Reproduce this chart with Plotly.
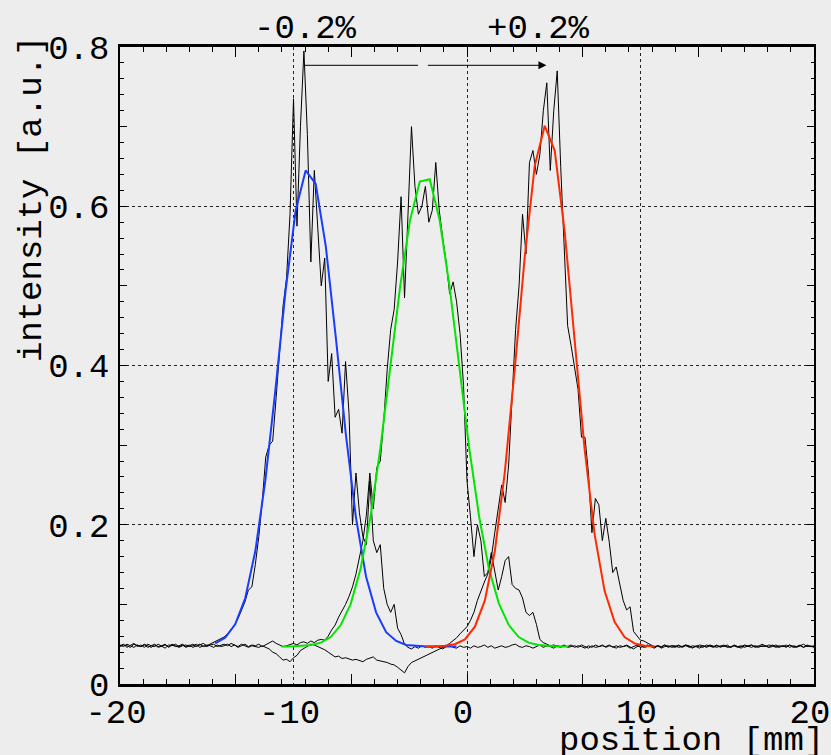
import numpy as np
import plotly.graph_objects as go

# ---------------- data ----------------
# measured profiles sampled every 0.2 mm from -20 to 20 mm
pos = np.round(np.arange(201) * 0.2 - 20, 1)

prof_minus = [  # peak near -9.4 mm (-0.2 %)
    0.048, 0.050, 0.046, 0.049, 0.051, 0.047, 0.049, 0.046, 0.050, 0.048,
    0.047, 0.050, 0.048, 0.045, 0.049, 0.048, 0.050, 0.047, 0.049, 0.046,
    0.048, 0.050, 0.047, 0.049, 0.051, 0.048, 0.050, 0.052, 0.054, 0.056,
    0.059, 0.063, 0.068, 0.074, 0.082, 0.092, 0.103, 0.118, 0.122, 0.150,
    0.185, 0.230, 0.285, 0.300, 0.305, 0.360, 0.420, 0.475, 0.510, 0.590,
    0.735, 0.575, 0.700, 0.795, 0.690, 0.530, 0.645, 0.565, 0.500, 0.535,
    0.380, 0.415, 0.335, 0.345, 0.315, 0.405, 0.340, 0.200, 0.265, 0.215,
    0.185, 0.175, 0.255, 0.180, 0.165, 0.175, 0.120, 0.100, 0.090, 0.100,
    0.070, 0.062, 0.050, 0.046, 0.044, 0.047, 0.045, 0.048, 0.046, 0.047,
    0.045, 0.048, 0.046, 0.044, 0.047, 0.049, 0.046, 0.045, 0.048, 0.046,
    0.047, 0.045, 0.048, 0.046, 0.047, 0.049, 0.046, 0.048, 0.045, 0.047,
    0.048, 0.046, 0.047, 0.049, 0.050, 0.047, 0.046, 0.048, 0.047, 0.045,
    0.047, 0.049, 0.046, 0.048, 0.047, 0.045, 0.048, 0.047, 0.049, 0.046,
    0.047, 0.048, 0.046, 0.049, 0.047, 0.045, 0.048, 0.046, 0.047, 0.049,
    0.046, 0.048, 0.047, 0.045, 0.048, 0.047, 0.049, 0.046, 0.044, 0.047,
    0.048, 0.046, 0.047, 0.049, 0.046, 0.048, 0.045, 0.047, 0.048, 0.046,
    0.047, 0.049, 0.046, 0.048, 0.047, 0.045, 0.048, 0.047, 0.046, 0.049,
    0.047, 0.046, 0.048, 0.047, 0.049, 0.046, 0.047, 0.048, 0.046, 0.047,
    0.049, 0.047, 0.046, 0.048, 0.047, 0.050, 0.048, 0.046, 0.047, 0.049,
    0.047, 0.048, 0.046, 0.049, 0.047, 0.046, 0.048, 0.050, 0.047, 0.048,
    0.046]

prof_zero = [  # peak near -2.4 mm
    0.049, 0.047, 0.050, 0.048, 0.046, 0.049, 0.047, 0.050, 0.048, 0.046,
    0.049, 0.047, 0.048, 0.050, 0.046, 0.049, 0.047, 0.048, 0.050, 0.047,
    0.049, 0.046, 0.048, 0.050, 0.047, 0.049, 0.048, 0.046, 0.049, 0.047,
    0.048, 0.050, 0.047, 0.049, 0.046, 0.048, 0.050, 0.047, 0.049, 0.048,
    0.050, 0.047, 0.049, 0.052, 0.054, 0.051, 0.049, 0.047, 0.048, 0.050,
    0.051, 0.049, 0.052, 0.053, 0.051, 0.054, 0.052, 0.055, 0.056, 0.055,
    0.060, 0.068, 0.074, 0.084, 0.092, 0.100, 0.110, 0.122, 0.138, 0.158,
    0.180, 0.212, 0.265, 0.220, 0.272, 0.280, 0.330, 0.395, 0.445, 0.470,
    0.530, 0.612, 0.485, 0.590, 0.700, 0.625, 0.590, 0.600, 0.625, 0.580,
    0.595, 0.655, 0.595, 0.560, 0.530, 0.490, 0.505, 0.480, 0.440, 0.375,
    0.255, 0.210, 0.160, 0.200, 0.180, 0.135, 0.140, 0.165, 0.140, 0.118,
    0.135, 0.155, 0.160, 0.125, 0.120, 0.118, 0.108, 0.090, 0.086, 0.090,
    0.075, 0.056, 0.052, 0.050, 0.048, 0.049, 0.047, 0.046, 0.048, 0.047,
    0.049, 0.046, 0.048, 0.047, 0.045, 0.048, 0.046, 0.049, 0.047, 0.048,
    0.047, 0.049, 0.046, 0.048, 0.046, 0.047, 0.048, 0.045, 0.047, 0.049,
    0.046, 0.048, 0.049, 0.047, 0.045, 0.048, 0.047, 0.049, 0.046, 0.048,
    0.048, 0.046, 0.047, 0.049, 0.048, 0.046, 0.047, 0.049, 0.048, 0.046,
    0.048, 0.047, 0.049, 0.046, 0.048, 0.047, 0.046, 0.049, 0.047, 0.048,
    0.046, 0.048, 0.049, 0.047, 0.046, 0.048, 0.047, 0.049, 0.048, 0.046,
    0.048, 0.047, 0.049, 0.046, 0.048, 0.047, 0.049, 0.046, 0.048, 0.047,
    0.048]

prof_plus = [  # peak near +4.8 mm (+0.2 %)
    0.047, 0.049, 0.048, 0.046, 0.050, 0.048, 0.047, 0.049, 0.046, 0.048,
    0.050, 0.046, 0.048, 0.049, 0.047, 0.050, 0.048, 0.046, 0.048, 0.049,
    0.047, 0.048, 0.050, 0.046, 0.048, 0.047, 0.049, 0.050, 0.047, 0.049,
    0.050, 0.048, 0.051, 0.049, 0.047, 0.050, 0.048, 0.046, 0.048, 0.047,
    0.046, 0.048, 0.046, 0.044, 0.040, 0.038, 0.034, 0.030, 0.031, 0.028,
    0.033, 0.036, 0.042, 0.045, 0.048, 0.050, 0.049, 0.047, 0.046, 0.043,
    0.040, 0.037, 0.034, 0.035, 0.032, 0.033, 0.031, 0.030, 0.031, 0.029,
    0.028, 0.031, 0.033, 0.034, 0.030, 0.029, 0.028, 0.027, 0.025, 0.024,
    0.021, 0.018, 0.014, 0.022, 0.027, 0.029, 0.031, 0.033, 0.035, 0.037,
    0.039, 0.042, 0.044, 0.046, 0.048, 0.051, 0.054, 0.058, 0.063, 0.067,
    0.072, 0.080, 0.090, 0.105, 0.117, 0.128, 0.138, 0.158, 0.190, 0.220,
    0.250, 0.228, 0.275, 0.360, 0.445, 0.500, 0.590, 0.540, 0.655, 0.670,
    0.640, 0.665, 0.720, 0.755, 0.645, 0.720, 0.770, 0.650, 0.545, 0.450,
    0.425, 0.395, 0.370, 0.310, 0.310, 0.265, 0.190, 0.233, 0.225, 0.180,
    0.208, 0.178, 0.140, 0.147, 0.126, 0.105, 0.093, 0.097, 0.066, 0.060,
    0.055, 0.054, 0.051, 0.049, 0.047, 0.048, 0.046, 0.049, 0.047, 0.048,
    0.046, 0.048, 0.047, 0.049, 0.046, 0.048, 0.047, 0.045, 0.048, 0.047,
    0.049, 0.047, 0.046, 0.048, 0.047, 0.049, 0.046, 0.048, 0.047, 0.045,
    0.048, 0.047, 0.049, 0.046, 0.048, 0.047, 0.048, 0.046, 0.049, 0.047,
    0.046, 0.048, 0.047, 0.049, 0.046, 0.047, 0.048, 0.046, 0.049, 0.047,
    0.047]

# Gaussian fit curves (sampled vertices as drawn)
fit_blue_x = [-14.52, -13.94, -13.36, -12.78, -12.20, -11.62, -11.04, -10.46, -9.88,
              -9.30, -8.72, -8.14, -7.56, -6.98, -6.40, -5.82, -5.24, -4.66, -4.08,
              -3.50, -2.92, -2.34, -1.76, -1.18, -0.60]
fit_blue_y = [0.051, 0.058, 0.075, 0.108, 0.167, 0.256, 0.370, 0.493, 0.594,
              0.645, 0.628, 0.550, 0.435, 0.313, 0.209, 0.135, 0.090, 0.065, 0.054,
              0.049, 0.048, 0.047, 0.047, 0.047, 0.047]

fit_green_x = [-10.70, -10.13, -9.56, -8.99, -8.42, -7.85, -7.28, -6.71, -6.14, -5.57,
               -5.00, -4.43, -3.86, -3.29, -2.72, -2.15, -1.58, -1.01, -0.44, 0.13,
               0.70, 1.27, 1.84, 2.41, 2.98, 3.55, 4.12, 4.69, 5.26, 5.83]
fit_green_y = [0.047, 0.047, 0.048, 0.049, 0.052, 0.059, 0.074, 0.100, 0.144, 0.209,
               0.295, 0.396, 0.498, 0.582, 0.631, 0.634, 0.583, 0.500, 0.397, 0.296,
               0.210, 0.144, 0.101, 0.074, 0.059, 0.052, 0.049, 0.048, 0.047, 0.047]

fit_red_x = [-2.42, -1.845, -1.27, -0.695, -0.12, 0.455, 1.03, 1.605, 2.18, 2.755,
             3.33, 3.905, 4.48, 5.055, 5.63, 6.205, 6.78, 7.355, 7.93, 8.505,
             9.08, 9.655, 10.23, 10.805]
fit_red_y = [0.047, 0.047, 0.048, 0.050, 0.056, 0.072, 0.105, 0.167, 0.266, 0.396,
             0.537, 0.651, 0.701, 0.670, 0.568, 0.431, 0.295, 0.188, 0.117, 0.078,
             0.059, 0.051, 0.048, 0.047]

# labels / annotations
x_tick_vals = [-20, -10, 0, 10, 20]
x_tick_text = ["-20", "-10", "0", "10", "20"]
y_tick_vals = [0, 0.2, 0.4, 0.6, 0.8]
y_tick_text = ["0", "0.2", "0.4", "0.6", "0.8"]
shift_labels = ["-0.2%", "+0.2%"]
shift_label_x = [-9.3, 4.1]
arrow_y = 0.777
arrow_from = -9.45
arrow_gap = [-2.82, -2.34]
arrow_to = 4.58

# ---------------- figure ----------------
FONT = "Liberation Mono, Courier New, monospace"
FS = 34
BG = "#ededed"

fig = go.Figure()
for prof in (prof_minus, prof_zero, prof_plus):
    fig.add_trace(go.Scatter(x=pos, y=prof, mode="lines",
                             line=dict(color="black", width=1), hoverinfo="skip"))

# fits drawn on the overlay axes (same ranges) that carry the tick marks
fig.add_trace(go.Scatter(x=fit_blue_x, y=fit_blue_y, mode="lines", xaxis="x2", yaxis="y2",
                         line=dict(color="#1a3cff", width=2)))
fig.add_trace(go.Scatter(x=fit_green_x, y=fit_green_y, mode="lines", xaxis="x2", yaxis="y2",
                         line=dict(color="#00e600", width=2)))
fig.add_trace(go.Scatter(x=fit_red_x, y=fit_red_y, mode="lines", xaxis="x2", yaxis="y2",
                         line=dict(color="#ff2a00", width=2)))

grid = dict(showgrid=True, gridcolor="#222222", gridwidth=1, griddash="dot")

fig.update_layout(
    width=831, height=755,
    margin=dict(l=120, r=17, t=47, b=71, autoexpand=False),
    paper_bgcolor=BG, plot_bgcolor=BG,
    showlegend=False,
    font=dict(family=FONT, size=FS, color="black"),
    xaxis=dict(range=[-20, 20], tickmode="array", tickvals=x_tick_vals,
               ticktext=x_tick_text, ticks="", zeroline=False, automargin=False,
               showline=True, linecolor="black", linewidth=2.5, mirror=True,
               ticklabelstandoff=-5, ticklabelshift=-4, ticklabeloverflow="allow",
               **grid),
    yaxis=dict(range=[0, 0.8], tickmode="array", tickvals=y_tick_vals,
               ticktext=y_tick_text, ticks="", zeroline=False, automargin=False,
               showline=True, linecolor="black", linewidth=1.5, mirror=True,
               ticklabelstandoff=2, ticklabeloverflow="allow", **grid),
    xaxis2=dict(overlaying="x", anchor="y2", side="bottom", range=[-20, 20],
                showgrid=False, zeroline=False, showline=False, automargin=False,
                showticklabels=False, ticks="inside", tickmode="linear",
                tick0=-20, dtick=20 / 3,
                ticklen=10, tickwidth=1, tickcolor="black", mirror="allticks",
                minor=dict(ticks="inside", tick0=-20, dtick=4 / 3, ticklen=5,
                           tickwidth=1, tickcolor="black", showgrid=False)),
    yaxis2=dict(overlaying="y", anchor="x2", side="left", range=[0, 0.8],
                showgrid=False, zeroline=False, showline=False, automargin=False,
                showticklabels=False, ticks="inside", tickmode="linear",
                tick0=0, dtick=0.1,
                ticklen=7, tickwidth=1, tickcolor="black", mirror="allticks",
                minor=dict(ticks="inside", tick0=0, dtick=0.02, ticklen=3.5,
                           tickwidth=1, tickcolor="black", showgrid=False)),
)

annotations = [
    dict(text="intensity [a.u.]", xref="paper", yref="paper", x=-0.127, y=0.761,
         textangle=-90, showarrow=False, xanchor="center", yanchor="middle",
         font=dict(family=FONT, size=FS)),
    dict(text="position [mm]", xref="paper", yref="paper", x=0.823, y=-0.121,
         showarrow=False, xanchor="center", yanchor="bottom", borderpad=0,
         font=dict(family=FONT, size=FS)),
]
for lab, lx in zip(shift_labels, shift_label_x):
    annotations.append(dict(text=lab, x=lx, xref="x", y=1.028, yref="paper",
                            showarrow=False, xanchor="center", yanchor="middle",
                            font=dict(family=FONT, size=FS)))
annotations.append(dict(text="", x=arrow_gap[0], y=arrow_y, xref="x", yref="y",
                        ax=arrow_from, ay=arrow_y, axref="x", ayref="y",
                        showarrow=True, arrowhead=0, arrowwidth=1, arrowcolor="black"))
annotations.append(dict(text="", x=arrow_to, y=arrow_y, xref="x", yref="y",
                        ax=arrow_gap[1], ay=arrow_y, axref="x", ayref="y",
                        showarrow=True, arrowhead=2, arrowsize=1.6, arrowwidth=1,
                        arrowcolor="black"))
fig.update_layout(annotations=annotations)

fig.write_html("out.html", config={"displayModeBar": False},
               post_script="document.body.style.margin='0px';"
                           "document.body.style.background='%s';" % BG)
